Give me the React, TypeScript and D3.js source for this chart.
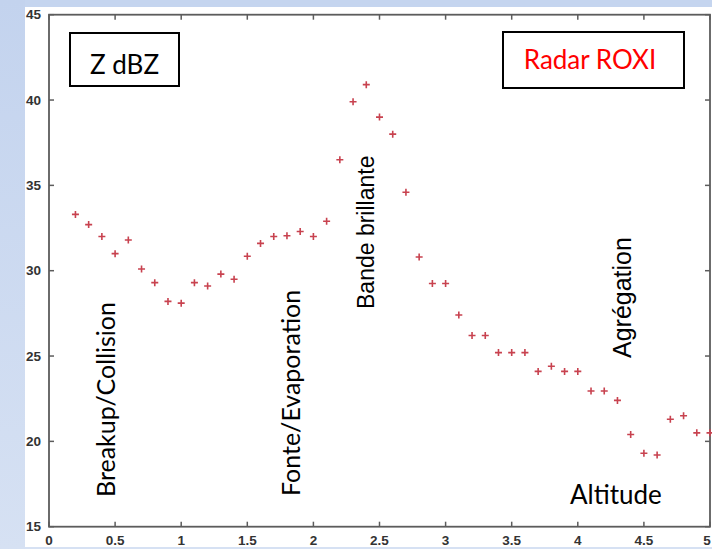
import React from 'react';
import * as d3 from 'd3';

// altitude (km) and reflectivity (dBZ)
const altitude = [
  0.2, 0.3, 0.4, 0.5, 0.6, 0.7, 0.8, 0.9, 1.0, 1.1, 1.2, 1.3, 1.4, 1.5, 1.6, 1.7, 1.8, 1.9, 2.0,
  2.1, 2.2, 2.3, 2.4, 2.5, 2.6, 2.7, 2.8, 2.9, 3.0, 3.1, 3.2, 3.3, 3.4, 3.5, 3.6, 3.7, 3.8, 3.9,
  4.0, 4.1, 4.2, 4.3, 4.4, 4.5, 4.6, 4.7, 4.8, 4.9, 5.0,
];
const reflectivity = [
  33.3, 32.7, 32.0, 31.0, 31.8, 30.1, 29.3, 28.2, 28.1, 29.3, 29.1, 29.8, 29.5, 30.85, 31.6, 32.0, 32.05, 32.3, 32.0,
  32.9, 36.5, 39.9, 40.9, 39.0, 38.0, 34.6, 30.8, 29.25, 29.25, 27.4, 26.2, 26.2, 25.2, 25.2, 25.2, 24.1, 24.4, 24.1,
  24.1, 22.95, 22.95, 22.4, 20.4, 19.3, 19.2, 21.3, 21.5, 20.5, 20.5,
];
const xTicks = [0, 0.5, 1, 1.5, 2, 2.5, 3, 3.5, 4, 4.5, 5];
const yTicks = [15, 20, 25, 30, 35, 40, 45];

const calibriLike = 'Lato, "Open Sans", sans-serif';
const arialLike = '"Liberation Sans", Arial, sans-serif';

export default function App() {
  const W = 712;
  const H = 549;
  const x = d3.scaleLinear().domain([0, 5]).range([49, 710]);
  const y = d3.scaleLinear().domain([15, 45]).range([526.7, 14.7]);
  const axisColor = '#5c5c5c';
  const tickLen = 5;
  const points = altitude.map((a, i) => ({ a, z: reflectivity[i] }));

  return (
    <svg
      width={W}
      height={H}
      style={{ position: 'absolute', left: 0, top: 0, background: '#fff' }}
    >
      <defs>
        <linearGradient id="side" x1="0" y1="0" x2="0" y2="1">
          <stop offset="0" stopColor="#c3d3ee" />
          <stop offset="1" stopColor="#d6e1f3" />
        </linearGradient>
      </defs>
      {/* slide background strips */}
      <rect x={0} y={0} width={W} height={7} fill="#c5d5ef" />
      <rect x={0} y={0} width={25} height={H} fill="url(#side)" />
      <rect x={25} y={547} width={W - 25} height={2} fill="#d6e1f3" />

      {/* frame */}
      <rect
        x={x(0)}
        y={y(45)}
        width={x(5) - x(0)}
        height={y(15) - y(45)}
        fill="none"
        stroke={axisColor}
        strokeWidth={1.8}
      />

      {/* ticks */}
      {xTicks.map((t) => (
        <g key={'x' + t}>
          <line x1={x(t)} x2={x(t)} y1={y(15)} y2={y(15) - tickLen} stroke={axisColor} strokeWidth={1.5} />
          <line x1={x(t)} x2={x(t)} y1={y(45)} y2={y(45) + tickLen} stroke={axisColor} strokeWidth={1.5} />
          <text
            x={t === 5 ? x(t) - 3 : x(t)}
            y={545}
            textAnchor="middle"
            fontFamily={arialLike}
            fontSize={13.5}
            fontWeight="bold"
            fill="#333"
          >
            {t}
          </text>
        </g>
      ))}
      {yTicks.map((t) => (
        <g key={'y' + t}>
          <line x1={x(0)} x2={x(0) + tickLen} y1={y(t)} y2={y(t)} stroke={axisColor} strokeWidth={1.5} />
          <line x1={x(5)} x2={x(5) - tickLen} y1={y(t)} y2={y(t)} stroke={axisColor} strokeWidth={1.5} />
          <text
            x={41}
            y={y(t)}
            dy="0.35em"
            textAnchor="end"
            fontFamily={arialLike}
            fontSize={13.5}
            fontWeight="bold"
            fill="#333"
          >
            {t}
          </text>
        </g>
      ))}

      {/* data markers */}
      {points.map((p, i) => (
        <path
          key={i}
          d={`M${x(p.a) - 3.5},${y(p.z)}h7M${x(p.a)},${y(p.z) - 3.5}v7`}
          stroke="#c8424f"
          strokeWidth={1.6}
          fill="none"
        />
      ))}

      {/* boxes */}
      <rect x={70} y={33} width={109} height={53} fill="#fff" stroke="#000" strokeWidth={2} />
      <text x={124.5} y={74} textAnchor="middle" fontFamily={calibriLike} fontSize={26} fill="#000">
        Z dBZ
      </text>
      <rect x={503} y={32} width={181} height={56} fill="#fff" stroke="#000" strokeWidth={2} />
      <text x={590} y={69} textAnchor="middle" fontFamily={calibriLike} fontSize={26} fill="#ff0000">
        Radar ROXI
      </text>

      {/* process annotations */}
      <text transform="translate(115,497) rotate(-90)" fontFamily={calibriLike} fontSize={25} fill="#000">
        Breakup/Collision
      </text>
      <text transform="translate(300,496) rotate(-90)" fontFamily={calibriLike} fontSize={25} fill="#000">
        Fonte/Evaporation
      </text>
      <text transform="translate(374,309) rotate(-90)" fontFamily={arialLike} fontSize={23} fill="#000">
        Bande brillante
      </text>
      <text transform="translate(631,358) rotate(-90)" fontFamily={arialLike} fontSize={25} fill="#000">
        Agrégation
      </text>
      <text x={570} y={504} fontFamily={calibriLike} fontSize={26} fill="#000">
        Altitude
      </text>
    </svg>
  );
}
